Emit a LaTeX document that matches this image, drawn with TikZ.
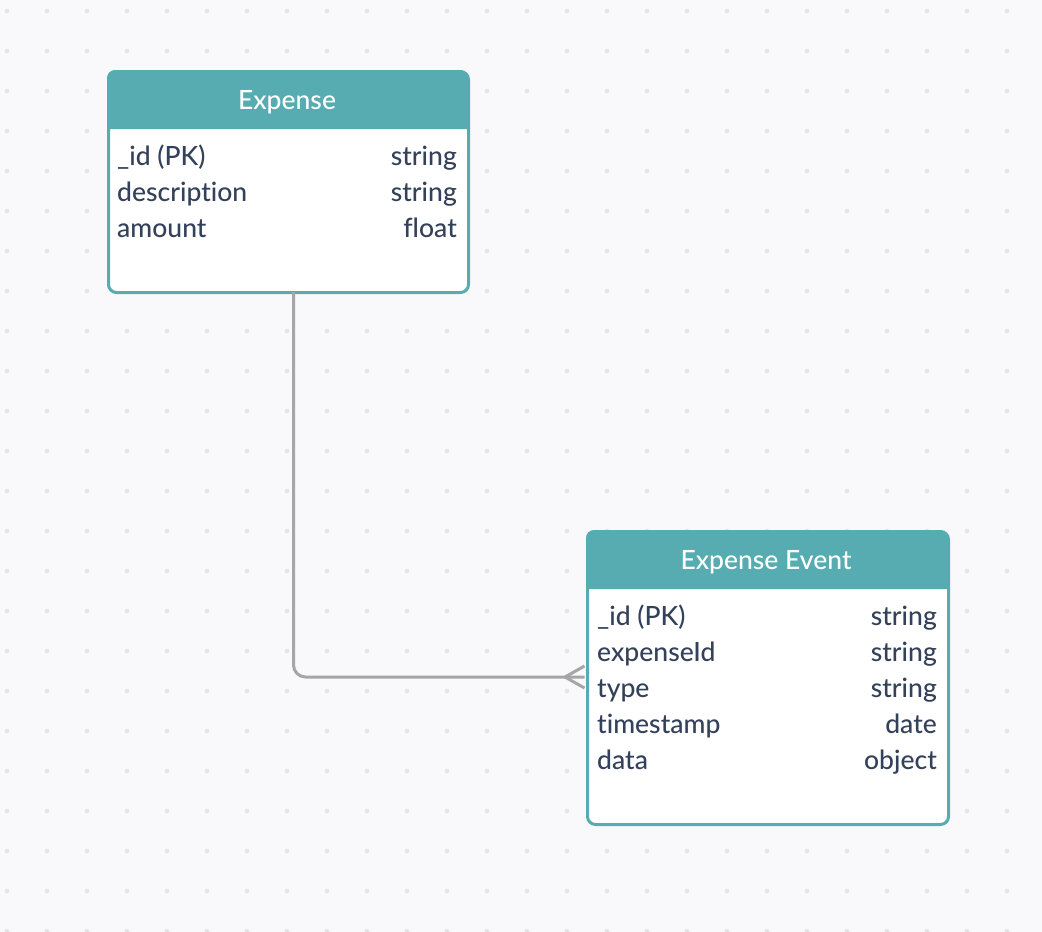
\documentclass[tikz,border=0pt]{standalone}
\usepackage{fontspec}
\setmainfont{Lato}
\newfontfamily\medfont[Ligatures=NoCommon]{Lato Medium}
\definecolor{bg}{HTML}{F9F9FB}
\definecolor{dotc}{HTML}{E4E4E8}
\definecolor{teal}{HTML}{56ACB0}
\definecolor{txt}{HTML}{34415A}
\definecolor{conn}{HTML}{A6A6A6}
\tikzset{
  entity/.style={draw=teal, line width=3pt, rounded corners=8pt, minimum width=360pt, anchor=north west, inner sep=0pt},
  title/.style={text=white, font=\medfont\fontsize{26.5}{30}\selectfont, anchor=base, inner sep=0pt},
  fld/.style={text=txt, font=\medfont\fontsize{26.5}{30}\selectfont, anchor=base west, inner sep=0pt},
  typ/.style={text=txt, font=\medfont\fontsize{26.5}{30}\selectfont, anchor=base east, inner sep=0pt},
  link/.style={draw=conn, line width=3pt},
}
\begin{document}
\begin{tikzpicture}[x=1pt,y=-1pt]
\fill[bg] (0,0) rectangle (1042,932);
\useasboundingbox (0,0) rectangle (1042,932);
\begin{scope}
\clip (0,0) rectangle (1042,932);
\foreach \i in {0,...,26}{\foreach \j in {0,...,23}{\fill[dotc] (7+40*\i,11+40*\j) circle (2.3);}}
\end{scope}
% Expense
\fill[white, rounded corners=8pt] (107,70) rectangle (467,291);
\fill[teal] (107,129) [rounded corners=8pt] -- (107,70) -- (467,70) [sharp corners] -- (467,129) -- cycle;
\node[entity, minimum height=221pt] (e1) at (107,70) {};
\node[title] (t1) at (287,109.5) {Expense};
\node[fld] (e1f1) at (117,165) {\_id (PK)};
\node[typ] (e1t1) at (457,165) {string};
\node[fld] (e1f2) at (117,201) {description};
\node[typ] (e1t2) at (457,201) {string};
\node[fld] (e1f3) at (117,237) {amount};
\node[typ] (e1t3) at (457,237) {float};
% Expense Event
\fill[white, rounded corners=8pt] (586,530) rectangle (947,823);
\fill[teal] (586,589) [rounded corners=8pt] -- (586,530) -- (947,530) [sharp corners] -- (947,589) -- cycle;
\node[entity, minimum width=361pt, minimum height=293pt] (e2) at (586,530) {};
\node[title] (t2) at (766,569.5) {Expense Event};
\node[fld] (e2f1) at (597,625) {\_id (PK)};
\node[typ] (e2t1) at (937,625) {string};
\node[fld] (e2f2) at (597,661) {expenseId};
\node[typ] (e2t2) at (937,661) {string};
\node[fld] (e2f3) at (597,697) {type};
\node[typ] (e2t3) at (937,697) {string};
\node[fld] (e2f4) at (597,733) {timestamp};
\node[typ] (e2t4) at (937,733) {date};
\node[fld] (e2f5) at (597,769) {data};
\node[typ] (e2t5) at (937,769) {object};
% connector
\coordinate (c1) at ([xshift=5pt,yshift=2pt]e1.south);
\coordinate (c2) at (e2.west |- 0,677);
\draw[link, rounded corners=12pt] (c1) |- ([xshift=-1.5pt]c2);
\draw[link] ([xshift=-21pt]c2) -- ([xshift=-1.5pt,yshift=11pt]c2);
\draw[link] ([xshift=-21pt]c2) -- ([xshift=-1.5pt,yshift=-11pt]c2);
\end{tikzpicture}
\end{document}
